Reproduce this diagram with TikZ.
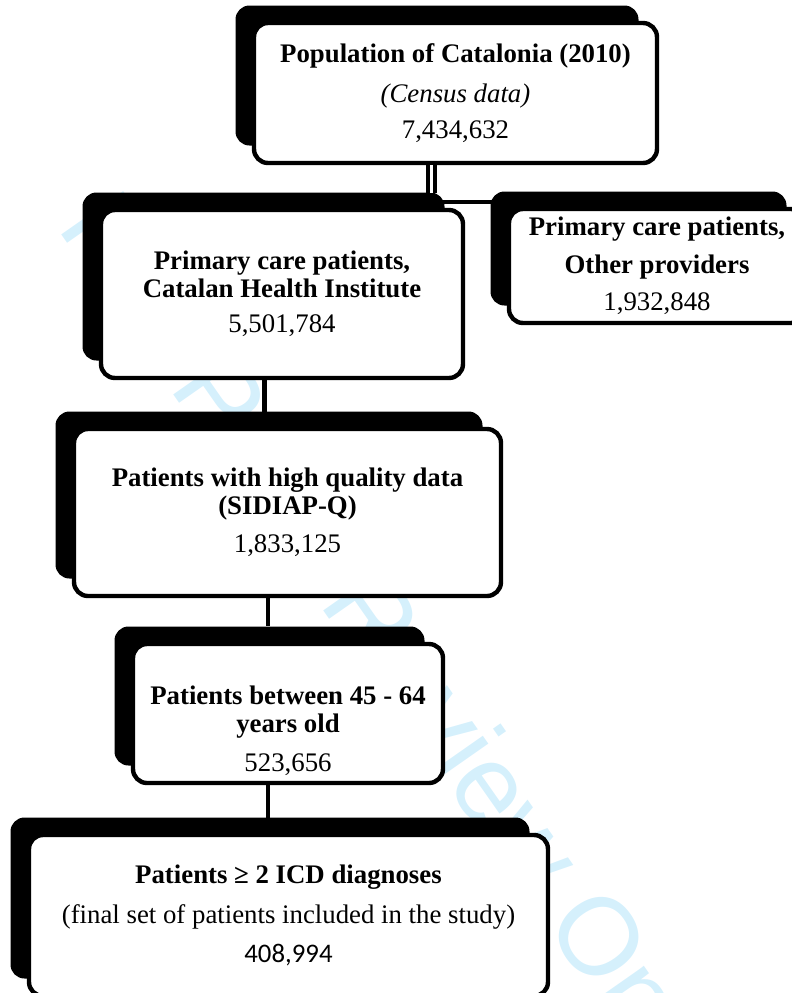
\documentclass[tikz,border=0pt]{standalone}
\usepackage{fontspec}
\setmainfont{Liberation Serif}
\newfontfamily\numfont{Carlito}
\newfontfamily\markfont{Liberation Sans}
\usetikzlibrary{shadows}
\usetikzlibrary{calc}
\definecolor{markcyan}{RGB}{213,240,252}

\tikzset{
	flowbox/.style = {draw, line width = 2.2pt, fill = white, rounded corners = 7pt, align = center,
		font = \fontsize{13.4}{14}\selectfont,
		drop shadow = {shadow xshift = -9.25pt, shadow yshift = 8.75pt, fill = black, opacity = 1}},
	boxtext/.style = {align = center, font = \fontsize{13.4}{14}\selectfont},
	link/.style = {line width = 2.4pt},
}

\begin{document}
\begin{tikzpicture}[x = 0.5pt, y = -0.5pt]
	
	\useasboundingbox (0,0) rectangle (792,993);
	\clip (0,0) rectangle (792,993);
	
	\node[text = markcyan, font = \markfont\fontsize{55}{60}\selectfont, rotate = -55, anchor = base west] (mark) at (52,222) {For Peer Review Only};
	
	\node[flowbox, minimum width = 201.5pt, minimum height = 70pt] (pop) at (455.5,93)
		{\textbf{Population of Catalonia (2010)}\\[6pt] \textit{(Census data)}\\[4pt] 7,434,632};
	\node[flowbox, minimum width = 181pt, minimum height = 84pt] (catalan) at (282,294)
		{\textbf{Primary care patients,}\\ \textbf{Catalan Health Institute}\\[3.5pt] 5,501,784};
	\node[flowbox, minimum width = 148pt, minimum height = 57pt] (other) at (657,266)
		{\textbf{Primary care patients,}\\[5pt] \textbf{Other providers}\\[4.5pt] 1,932,848};
	\node[flowbox, minimum width = 213.5pt, minimum height = 83.5pt] (quality) at (287.5,512.5)
		{\textbf{Patients with high quality data}\\ \textbf{(SIDIAP-Q)}\\[5pt] 1,833,125};
	\node[flowbox, minimum width = 155pt, minimum height = 69.5pt] (age) at (288,713.5) {};
	\node[boxtext] (agetext) at (288,731)
		{\textbf{Patients between 45 - 64}\\ \textbf{years old}\\[5.5pt] 523,656};
	\node[flowbox, minimum width = 259.5pt, minimum height = 80.5pt] (final) at (288.5,915.5)
		{\textbf{Patients ≥ 2 ICD diagnoses}\\[6pt] (final set of patients included in the study)\\[5.5pt] {\numfont 408,994}};
	
	% split below the census box
	\coordinate (split) at (431.5,193);
	\coordinate (branch) at (443,202);
	\draw[line width = 1.7pt, double, double distance = 1.7pt] (pop.south -| split) -- (split);
	\draw[line width = 1.7pt] (branch) -- (branch -| other.west);
	
	\coordinate (l23) at (264.5,412);
	\coordinate (l34) at (268,626);
	\coordinate (l45) at (268,818);
	\draw[link] (catalan.south -| l23) -- (l23);
	\draw[link] (quality.south -| l34) -- (l34);
	\draw[link] (age.south -| l45) -- (l45);
	
\end{tikzpicture}
\end{document}
